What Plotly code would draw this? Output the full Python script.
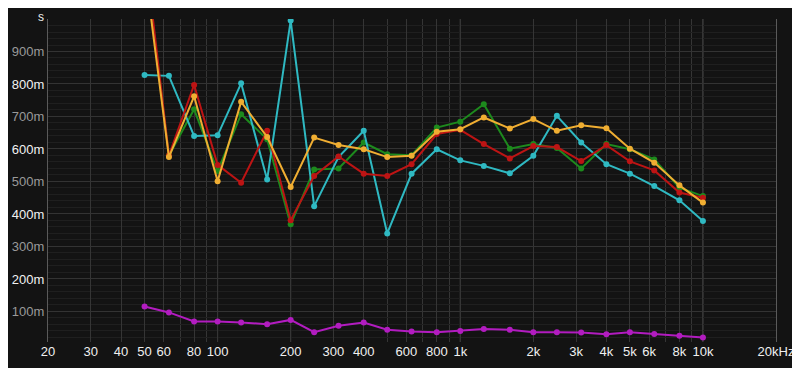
import plotly.graph_objects as go

# ---- data ----
freqs = [50, 63, 80, 100, 125, 160, 200, 250, 315, 400, 500, 630, 800,
         1000, 1250, 1600, 2000, 2500, 3150, 4000, 5000, 6300, 8000, 10000]

series_red = [1.22, 0.58, 0.797, 0.551, 0.496, 0.656, 0.381, 0.517, 0.577, 0.524, 0.517, 0.553,
              0.646, 0.659, 0.615, 0.571, 0.609, 0.606, 0.563, 0.612, 0.562, 0.534, 0.466, 0.450]
series_green = [1.19, 0.58, 0.722, 0.532, 0.707, 0.630, 0.368, 0.537, 0.540, 0.620, 0.584, 0.581,
                0.666, 0.684, 0.738, 0.601, 0.615, 0.603, 0.540, 0.615, 0.599, 0.568, 0.481, 0.455]
series_cyan = [0.828, 0.825, 0.640, 0.642, 0.802, 0.506, 0.995, 0.424, 0.575, 0.656, 0.340, 0.524,
               0.599, 0.565, 0.548, 0.525, 0.579, 0.702, 0.620, 0.553, 0.524, 0.486, 0.442, 0.378]
series_orange = [1.16, 0.575, 0.762, 0.501, 0.745, 0.637, 0.483, 0.635, 0.612, 0.599, 0.575, 0.579,
                 0.653, 0.661, 0.697, 0.663, 0.692, 0.656, 0.673, 0.664, 0.601, 0.558, 0.488, 0.435]
series_magenta = [0.115, 0.097, 0.069, 0.069, 0.066, 0.061, 0.074, 0.036, 0.056, 0.066, 0.044, 0.038,
                  0.036, 0.040, 0.046, 0.044, 0.036, 0.036, 0.035, 0.030, 0.036, 0.031, 0.025, 0.020]

x_tickvals = [20, 30, 40, 50, 60, 80, 100, 200, 300, 400, 600, 800, 1000,
              2000, 3000, 4000, 5000, 6000, 8000, 10000, 20000]
x_ticktext = ["20", "30", "40", "50", "60", "80", "100", "200", "300", "400", "600", "800", "1k",
              "2k", "3k", "4k", "5k", "6k", "8k", "10k", "20kHz"]
x_minor = [70, 90, 500, 700, 900, 7000, 9000]
x_bright = [100, 200, 1000, 10000]

y_tickvals = [0.1, 0.2, 0.3, 0.4, 0.5, 0.6, 0.7, 0.8, 0.9]
y_ticktext = ["100m", "200m", "300m", "400m", "500m", "600m", "700m", "800m", "900m"]
y_bright_labels = ["200m", "400m", "600m", "800m"]

# ---- figure ----
BG = "#131313"
FONT = "Liberation Sans, Arial, Helvetica, sans-serif"

fig = go.Figure()

traces = [
    (series_green, "#1d8a1d"),
    (series_cyan, "#2fb9c2"),
    (series_red, "#bd1414"),
    (series_orange, "#f0ae32"),
    (series_magenta, "#b21cc0"),
]
for vals, col in traces:
    fig.add_trace(go.Scatter(
        x=freqs, y=vals, mode="lines+markers",
        line=dict(color=col, width=2),
        marker=dict(color=col, size=6),
        cliponaxis=True, showlegend=False, hoverinfo="skip",
    ))

# brighter vertical grid lines
for f in x_bright:
    fig.add_shape(type="line", xref="x", yref="paper", x0=f, x1=f, y0=0, y1=1,
                  line=dict(color="#4e4e4e", width=1), layer="below")

y_text = [(('<span style="color:#f2f2f2">%s</span>' % t) if t in y_bright_labels else t)
          for t in y_ticktext]

# page body has an 8px margin, so the figure is 792x360 and margins are reduced by 8
fig.update_layout(
    width=792, height=360,
    paper_bgcolor=BG, plot_bgcolor=BG,
    margin=dict(l=40, r=24, t=11, b=26),
    font=dict(family=FONT, size=13, color="#f0f0f0"),
    xaxis=dict(
        type="log", range=[1.30103, 4.30103], automargin=False,
        tickmode="array", tickvals=x_tickvals, ticktext=x_ticktext,
        showgrid=True, gridcolor="#353535", gridwidth=1,
        zeroline=False, showline=False, ticks="", ticklen=0,
        tickfont=dict(size=13, color="#f0f0f0"),
        minor=dict(tickmode="array", tickvals=x_minor, showgrid=True,
                   gridcolor="#353535", gridwidth=1, ticks=""),
    ),
    yaxis=dict(
        range=[0.006, 1.0], automargin=False,
        tickmode="array", tickvals=y_tickvals, ticktext=y_text,
        showgrid=True, gridcolor="#333333", gridwidth=1,
        zeroline=False, ticks="", ticklen=0, ticklabelstandoff=0,
        tickfont=dict(size=13, color="#9a9a9a"),
        minor=dict(dtick=0.02, tick0=0, showgrid=True, gridcolor="#1f1f1f", gridwidth=1, ticks=""),
        showline=True, linecolor="#5a5a5a", linewidth=1, mirror=True,
    ),
    annotations=[dict(text="s", xref="paper", yref="paper", x=0, y=1, xanchor="right", yanchor="top",
                      xshift=-2, yshift=11, showarrow=False, font=dict(size=12, color="#f0f0f0"))],
)

fig.write_html("out.html")
